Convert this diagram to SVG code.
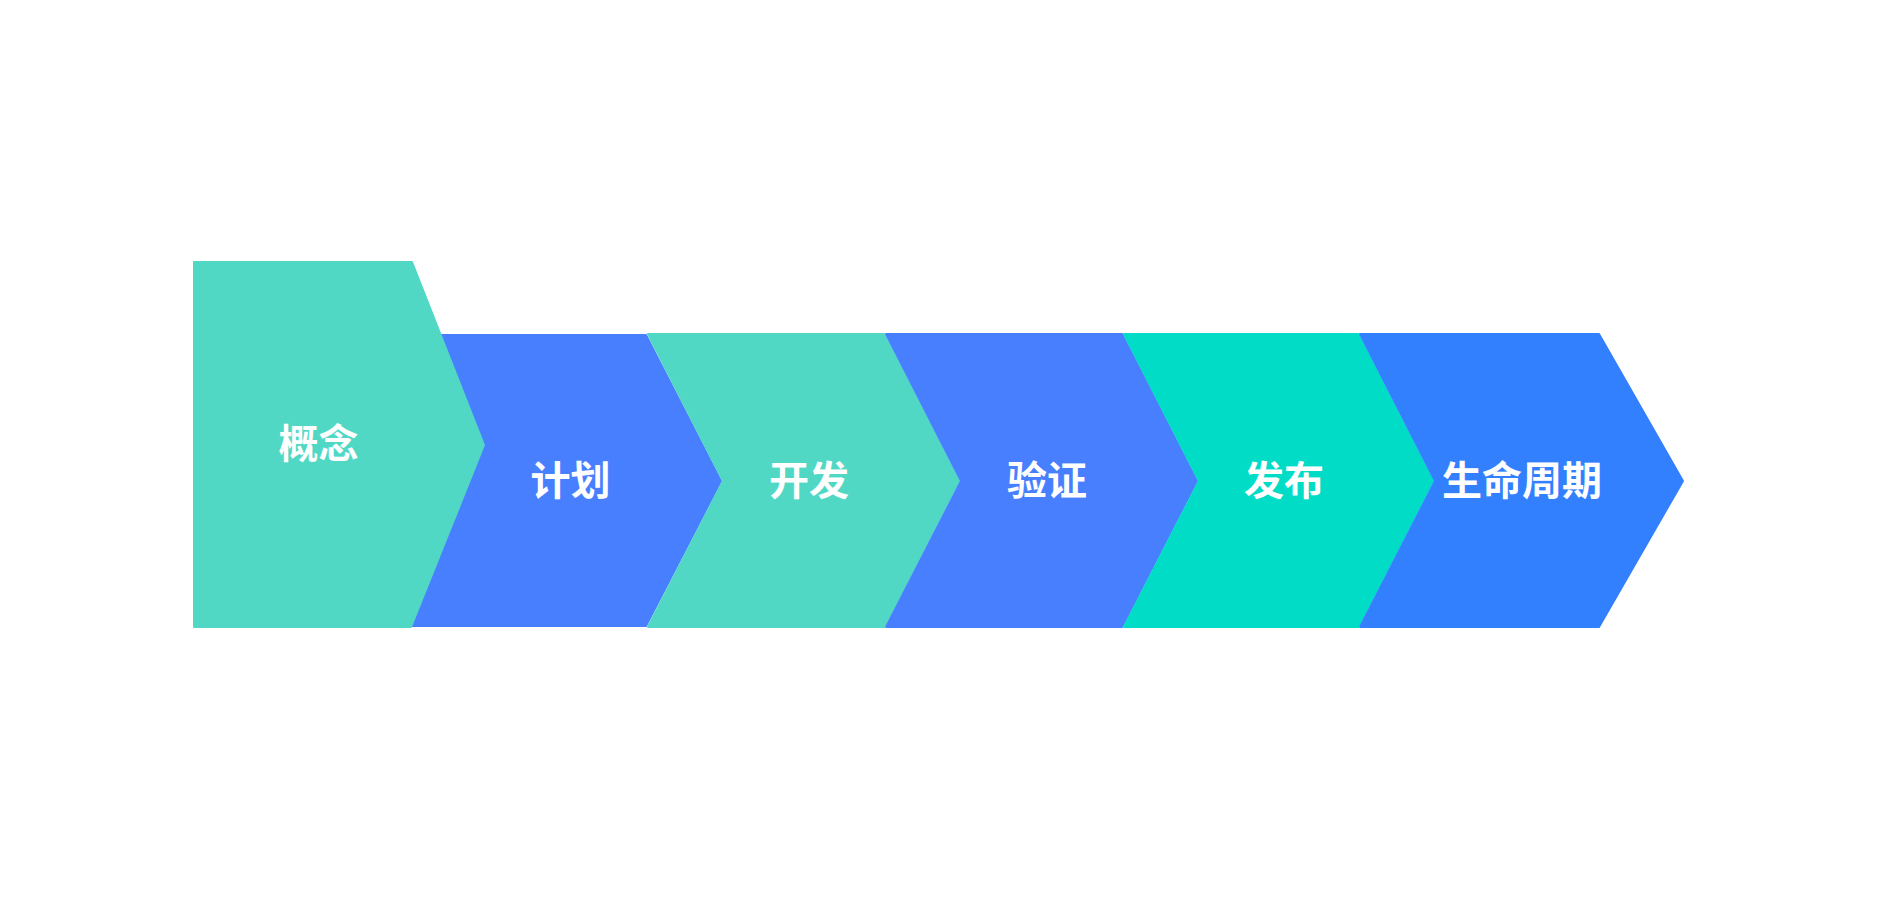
<svg xmlns="http://www.w3.org/2000/svg" width="1884" height="922" viewBox="0 0 1884 922">
<style>
.lbl{font-family:"Noto Sans CJK SC","Noto Sans",sans-serif;font-weight:700;font-size:40px;fill:#ffffff;text-anchor:middle}
.shp{stroke-width:2;stroke-linejoin:round}
.t1{fill:#50D8C5;stroke:#50D8C5}
.b1{fill:#487FFF;stroke:#487FFF}
.t2{fill:#00DCC6;stroke:#00DCC6}
.b2{fill:#3380FF;stroke:#3380FF}
</style>
<rect width="1884" height="922" fill="#ffffff"/>
<g id="node-plan">
<polygon class="shp b1" points="420,335 646,335 721,481 646,626 400,626"/>
<text class="lbl" x="570.5" y="495">计划</text>
</g>
<g id="node-concept">
<polygon class="shp t1" points="194,262 412,262 484,445 411,627 194,627"/>
<text class="lbl" x="318.5" y="458">概念</text>
</g>
<g id="node-develop">
<polygon class="shp t1" points="648,334 884,334 959,481 884,627 648,627 723,481"/>
<text class="lbl" x="809" y="495">开发</text>
</g>
<g id="node-verify">
<polygon class="shp b1" points="886,334 1122,334 1197,481 1122,627 886,627 961,481"/>
<text class="lbl" x="1047" y="495">验证</text>
</g>
<g id="node-release">
<polygon class="shp t2" points="1124,334 1358,334 1433,481 1358,627 1124,627 1199,481"/>
<text class="lbl" x="1284" y="495">发布</text>
</g>
<g id="node-lifecycle">
<polygon class="shp b2" points="1360,334 1599,334 1683,481 1599,627 1360,627 1435,481"/>
<text class="lbl" x="1522" y="495">生命周期</text>
</g>
<g id="connectors"></g>
</svg>
